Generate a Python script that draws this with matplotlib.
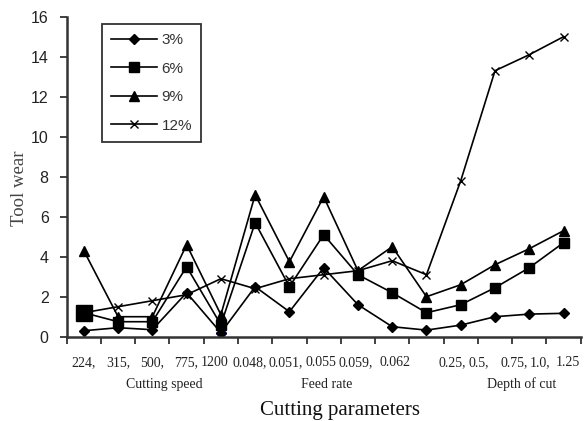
import numpy as np
import matplotlib
matplotlib.use("Agg")
import matplotlib.pyplot as plt
import matplotlib.transforms as mtransforms

# tool wear for each cutting parameter level, one series per reinforcement %
series_names = ["3%", "6%", "9%", "12%"]
wear_3 = [0.3, 0.45, 0.35, 2.2, 0.2, 2.5, 1.25, 3.45, 1.6, 0.5, 0.33, 0.58, 1.0, 1.13, 1.17]
wear_6 = [1.2, 0.75, 0.75, 3.5, 0.6, 5.7, 2.5, 5.1, 3.1, 2.2, 1.2, 1.6, 2.45, 3.45, 4.7]
wear_9 = [4.3, 1.0, 1.0, 4.6, 1.1, 7.1, 3.75, 7.0, 3.3, 4.5, 2.0, 2.6, 3.6, 4.4, 5.3]
wear_12 = [1.2, 1.5, 1.8, 2.1, 2.9, 2.4, 2.9, 3.1, 3.3, 3.8, 3.1, 7.8, 13.3, 14.1, 15.0]

param_labels = ["224,", "315,", "500,", "775,", "1200", "0.048,", "0.051,", "0.055",
                "0.059,", "0.062", "0.25,", "0.5,", "0.75,", "1.0,", "1.25"]
label_pos = [0.0, 1.0, 1.99, 3.0, 3.83, 4.85, 5.9, 6.92, 7.94, 9.08,
             10.74, 11.53, 12.55, 13.31, 14.13]
group_labels = ["Cutting speed", "Feed rate", "Depth of cut"]
group_pos = [2.35, 7.1, 12.79]

x = np.arange(len(wear_3))

fig = plt.figure(figsize=(5.84, 4.21), dpi=100)
ax = fig.add_axes([0.1142, 0.2002, 0.8801, 0.7601])

styles = [("D", 5.5), ("s", 6.5), ("^", 7.0), ("x", 6.0)]
for vals, name, (mk, ms) in zip([wear_3, wear_6, wear_9, wear_12], series_names, styles):
    ax.plot(x, vals, color="black", lw=1.2, marker=mk, ms=ms, mew=1.0,
            mfc="black", mec="black", label=name)

# enlarged first square and the blue diamond at 1200
ax.plot(x[0], wear_6[0], "s", color="black", ms=11, zorder=3)
ax.plot(x[4], wear_3[4], "D", color="#1a1aff", ms=5, zorder=1)

ax.set_xlim(-0.5, 14.5)
ax.set_ylim(0, 16)
ax.set_yticks(np.arange(0, 17, 2))

for side in ["top", "right"]:
    ax.spines[side].set_visible(False)
for side in ["left", "bottom"]:
    ax.spines[side].set_color("#333333")
    ax.spines[side].set_linewidth(1.8)

ax.tick_params(axis="y", direction="out", length=5, width=1.3, color="#333333",
               pad=8, labelsize=11.5, labelcolor="#222222")
for lbl in ax.get_yticklabels():
    lbl.set_family("Liberation Sans")

ax.set_xticks(np.arange(-0.5, 15, 1), minor=True)
ax.set_xticks(label_pos, param_labels)
ax.tick_params(axis="x", which="major", length=0, pad=14, labelsize=10, labelcolor="#222222")
ax.tick_params(axis="x", which="minor", direction="out", length=5, width=1.3, color="#333333")
for lbl in ax.get_xticklabels():
    lbl.set_family("Liberation Serif")

trans = mtransforms.blended_transform_factory(ax.transData, ax.transAxes)
for gl, gp in zip(group_labels, group_pos):
    ax.text(gp, -0.148, gl, transform=trans, ha="center", va="center",
            family="Liberation Serif", fontsize=10, color="#222222")

ax.set_ylabel("Tool wear", family="Liberation Serif", fontsize=13.5, color="#444444")
ax.yaxis.set_label_coords(-0.075, 0.465)

fig.text(0.582, 0.024, "Cutting parameters", ha="center", va="center",
         family="Liberation Serif", fontsize=15, color="#111111")

leg = ax.legend(loc="upper left", bbox_to_anchor=(0.0687, 0.977), borderaxespad=0,
                frameon=True, fancybox=False, handlelength=3.0, labelspacing=0.95,
                borderpad=0.6, handletextpad=0.3,
                prop={"family": "Liberation Sans", "size": 11})
leg.get_frame().set_edgecolor("black")
leg.get_frame().set_linewidth(1.3)
for t in leg.get_texts():
    t.set_color("#333333")

fig.savefig("out.png", dpi=100)
